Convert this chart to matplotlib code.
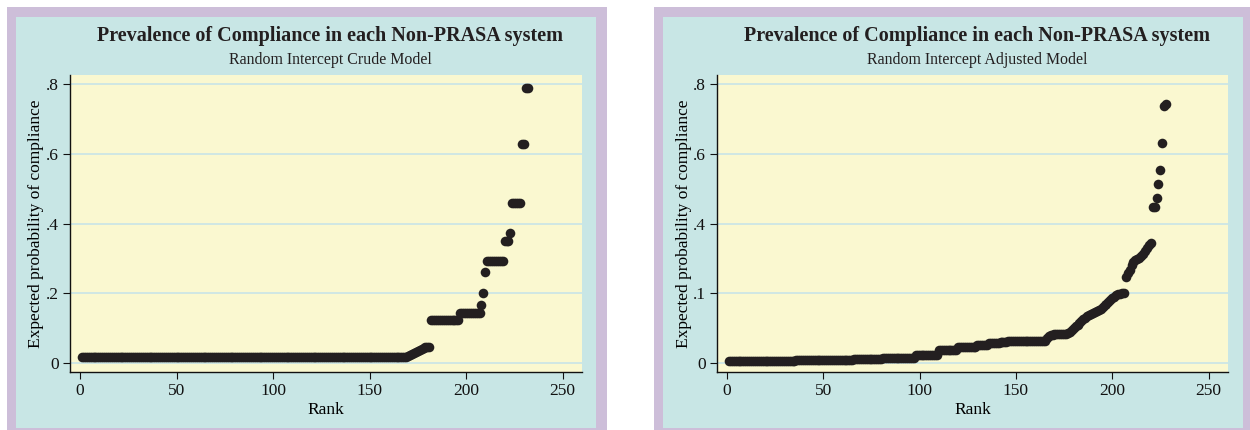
"""Ranked expected probability of compliance, crude vs adjusted random intercept models."""

import matplotlib
matplotlib.use('Agg')
import matplotlib.pyplot as plt
from matplotlib.patches import Rectangle

# ---- data ----
crude_values = (
    [0.016] * 168
    + [0.018, 0.020, 0.022, 0.025, 0.028, 0.032, 0.035, 0.037, 0.040, 0.043, 0.045, 0.045, 0.045]
    + [0.123] * 15
    + [0.143] * 11
    + [0.166, 0.200, 0.260]
    + [0.292] * 9
    + [0.350] * 3
    + [0.372]
    + [0.460] * 5
    + [0.627] * 2
    + [0.790] * 2
)
crude_rank = list(range(1, len(crude_values) + 1))

# adjusted model, in axis position units (the ".1" tick sits at 0.2)
adjusted_values = (
    [0.006] * 20
    + [0.007] * 15
    + [0.008] * 15
    + [0.010] * 15
    + [0.012] * 15
    + [0.015] * 17
    + [0.022] * 12
    + [0.038] * 10
    + [0.046] * 10
    + [0.052] * 6
    + [0.057] * 6
    + [0.061] * 4
    + [0.063] * 20
    + [0.072, 0.078, 0.080, 0.081, 0.082, 0.082, 0.082, 0.082, 0.083, 0.083, 0.083]
    + [0.085, 0.090, 0.095, 0.100, 0.105, 0.110, 0.115, 0.120, 0.125, 0.130]
    + [0.134, 0.138, 0.141, 0.144, 0.147, 0.150, 0.152, 0.155, 0.160, 0.165]
    + [0.170, 0.175, 0.180, 0.185, 0.190, 0.195, 0.197, 0.198, 0.200, 0.200]
    + [0.247, 0.258, 0.267, 0.280, 0.290, 0.294, 0.298, 0.302, 0.306, 0.314, 0.320, 0.330, 0.338, 0.344]
    + [0.447, 0.447, 0.473, 0.513, 0.553, 0.630, 0.738, 0.742]
)
adjusted_rank = list(range(1, len(adjusted_values) + 1))

y_ticks = [0, 0.2, 0.4, 0.6, 0.8]
crude_ylabels = ['0', '.2', '.4', '.6', '.8']
adjusted_ylabels = ['0', '.1', '.4', '.6', '.8']
x_ticks = [0, 50, 100, 150, 200, 250]

title = 'Prevalence of Compliance in each Non-PRASA system'
subtitles = ['Random Intercept Crude Model', 'Random Intercept Adjusted Model']

# ---- colours ----
PURPLE = '#CDBED9'
TEAL = '#C8E6E5'
CREAM = '#FAF8D0'
GRID = '#C4E2EA'
DOT = '#231F20'

plt.rcParams['font.family'] = ['Liberation Serif', 'DejaVu Serif']

W, H = 1250, 430
fig = plt.figure(figsize=(W / 100, H / 100), dpi=100)


def box(x0, y0, x1, y1, color):
    # pixel coords (top-left origin) -> figure fraction, drawn behind the axes
    fig.add_artist(Rectangle((x0 / W, 1 - y1 / H), (x1 - x0) / W, (y1 - y0) / H,
                             transform=fig.transFigure, facecolor=color,
                             edgecolor='none', zorder=-10))


box(7, 7, 607, 430, PURPLE)
box(16, 17, 596, 428, TEAL)
box(654, 7, 1250, 430, PURPLE)
box(663, 17, 1243, 428, TEAL)

panels = [
    (70, 582, crude_rank, crude_values, crude_ylabels, subtitles[0], 330),
    (717, 1228, adjusted_rank, adjusted_values, adjusted_ylabels, subtitles[1], 977),
]

for x0, x1, ranks, vals, ylabels, sub, cx in panels:
    ax = fig.add_axes([x0 / W, 1 - 372 / H, (x1 - x0) / W, (372 - 75) / H])
    ax.set_zorder(1)
    ax.set_facecolor(CREAM)
    ax.scatter(ranks, vals, s=48, color=DOT, linewidths=0, zorder=3)
    ax.set_xlim(-5.2, 260.1)
    ax.set_ylim(-0.0258, 0.826)
    ax.set_xticks(x_ticks)
    ax.set_yticks(y_ticks)
    ax.set_yticklabels(ylabels)
    ax.grid(axis='y', color=GRID, linewidth=1.1, zorder=0)
    ax.set_axisbelow(True)
    for side in ['top', 'right']:
        ax.spines[side].set_visible(False)
    for side in ['left', 'bottom']:
        ax.spines[side].set_linewidth(1.0)
        ax.spines[side].set_color('#111111')
    ax.tick_params(direction='out', length=5, width=0.8, labelsize=12.5,
                   colors='#111111', pad=3)
    ax.set_xlabel('Rank', fontsize=12.5, labelpad=2)
    ax.set_ylabel('Expected probability of compliance', fontsize=12.5, labelpad=1)

    fig.text(cx / W, 1 - 36 / H, title, ha='center', va='center',
             fontsize=14.5, fontweight='bold', color='#231F20')
    fig.text(cx / W, 1 - 60 / H, sub, ha='center', va='center',
             fontsize=11.4, color='#231F20')

plt.savefig('out.png', dpi=100)
